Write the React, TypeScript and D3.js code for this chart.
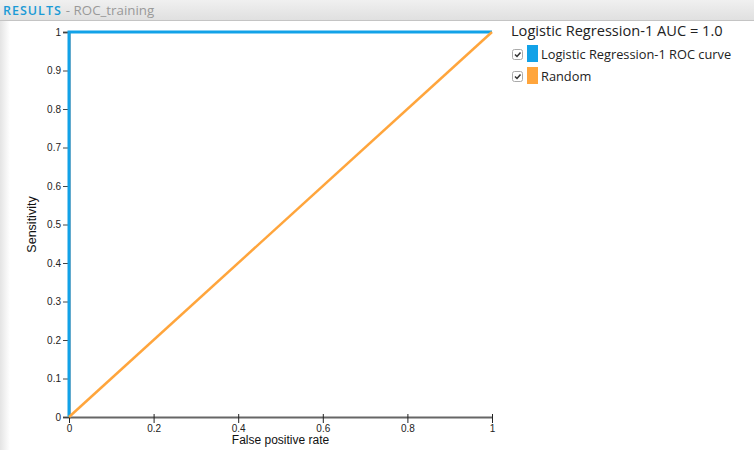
import React, { useEffect, useRef } from 'react'
import * as d3 from 'd3'

type Pt = { fpr: number, tpr: number }

// ROC curve of the model (perfect classifier) and the random baseline
const rocFpr = [0, 0, 1]
const rocTpr = [0, 1, 1]
const randomFpr = [0, 1]
const randomTpr = [0, 1]

const xTicks = [0, 0.2, 0.4, 0.6, 0.8, 1]
const yTicks = [0, 0.1, 0.2, 0.3, 0.4, 0.5, 0.6, 0.7, 0.8, 0.9, 1]

const legendTitle = 'Logistic Regression-1 AUC = 1.0'
const seriesNames = ['Logistic Regression-1 ROC curve', 'Random']
const seriesColors = ['#12a2e8', '#ffa53c']

export default function App() {
    const ref = useRef<SVGSVGElement>(null)

    useEffect(() => {
        const width = 754
        const height = 450
        const svg = d3.select(ref.current!)
        svg.selectAll('*').remove()
        svg.attr('width', width).attr('height', height)

        const defs = svg.append('defs')
        const hg = defs.append('linearGradient').attr('id', 'hdr').attr('x1', 0).attr('y1', 0).attr('x2', 0).attr('y2', 1)
        hg.append('stop').attr('offset', '0%').attr('stop-color', '#f0f0f0')
        hg.append('stop').attr('offset', '100%').attr('stop-color', '#e0e0e0')
        const lg = defs.append('linearGradient').attr('id', 'side').attr('x1', 0).attr('y1', 0).attr('x2', 1).attr('y2', 0)
        lg.append('stop').attr('offset', '0%').attr('stop-color', '#e4e4e4')
        lg.append('stop').attr('offset', '100%').attr('stop-color', '#ffffff')

        // header bar
        svg.append('rect').attr('x', 0).attr('y', 20).attr('width', 10).attr('height', height - 20).attr('fill', 'url(#side)')
        svg.append('rect').attr('x', 0).attr('y', 0).attr('width', width).attr('height', 20).attr('fill', 'url(#hdr)')
        svg.append('line').attr('x1', 0).attr('x2', width).attr('y1', 20.5).attr('y2', 20.5).attr('stroke', '#c4c4c4')
        const ht = svg.append('text').attr('x', 3).attr('y', 15)
            .attr('font-family', 'Open Sans').attr('font-size', 12.5)
        ht.append('tspan').attr('fill', '#1b9ad6').attr('font-weight', 600).attr('letter-spacing', 1).text('RESULTS')
        ht.append('tspan').attr('fill', '#999').attr('dx', 4).attr('font-size', 13.3).text('- ROC_training')

        const x = d3.scaleLinear().domain([0, 1]).range([69, 492])
        const y = d3.scaleLinear().domain([0, 1]).range([417, 32])

        // y axis
        const ya = svg.append('g').attr('transform', `translate(${x(0)},0)`)
            .call(d3.axisLeft(y).tickValues(yTicks).tickSize(6).tickFormat(d3.format('~g')))
        ya.select('.domain').attr('stroke', '#666').attr('stroke-width', 2)
        ya.selectAll('.tick line').attr('stroke', '#444')
        ya.selectAll('.tick text').attr('font-family', 'Liberation Sans').attr('font-size', 10).attr('fill', '#222').attr('x', -8)

        // x axis
        const xa = svg.append('g').attr('transform', `translate(0,${y(0)})`)
            .call(d3.axisBottom(x).tickValues(xTicks).tickSizeInner(6).tickSizeOuter(0).tickFormat(d3.format('~g')))
        xa.select('.domain').attr('stroke', '#666').attr('stroke-width', 2)
        xa.selectAll('.tick line').attr('stroke', '#222').attr('y1', -3)
        xa.selectAll('.tick text').attr('font-family', 'Liberation Sans').attr('font-size', 10).attr('fill', '#222').attr('y', 8)

        svg.append('text').attr('x', (x(0) + x(1)) / 2).attr('y', 444).attr('text-anchor', 'middle')
            .attr('font-family', 'Liberation Sans').attr('font-size', 12).attr('fill', '#111').text('False positive rate')
        svg.append('text').attr('transform', `translate(36,${(y(0) + y(1)) / 2}) rotate(-90)`).attr('text-anchor', 'middle')
            .attr('font-family', 'Liberation Sans').attr('font-size', 12.5).attr('fill', '#111').text('Sensitivity')

        const line = d3.line<Pt>().x(d => x(d.fpr)).y(d => y(d.tpr))
        const roc: Pt[] = rocFpr.map((f, i) => ({ fpr: f, tpr: rocTpr[i] }))
        const rnd: Pt[] = randomFpr.map((f, i) => ({ fpr: f, tpr: randomTpr[i] }))

        svg.append('path').datum(roc).attr('d', line).attr('fill', 'none')
            .attr('stroke', seriesColors[0]).attr('stroke-width', 3)
        svg.append('path').datum(rnd).attr('d', line).attr('fill', 'none')
            .attr('stroke', seriesColors[1]).attr('stroke-width', 2.5)

        // legend
        const leg = svg.append('g').attr('font-family', 'Open Sans')
        leg.append('text').attr('x', 511).attr('y', 36).attr('font-size', 14.6).attr('fill', '#222').text(legendTitle)
        seriesNames.forEach((name, i) => {
            const cy = 54 + i * 22
            leg.append('rect').attr('x', 512.5).attr('y', cy - 4.5).attr('width', 10).attr('height', 10).attr('rx', 2)
                .attr('fill', '#fff').attr('stroke', '#aaa')
            leg.append('path').attr('d', `M${515},${cy + 0.5} L${517},${cy + 2.5} L${520.5},${cy - 1.5}`)
                .attr('fill', 'none').attr('stroke', '#333').attr('stroke-width', 1.5)
            leg.append('rect').attr('x', 527).attr('y', cy - 9).attr('width', 11).attr('height', 17).attr('fill', seriesColors[i])
            leg.append('text').attr('x', 541).attr('y', cy + 5).attr('font-size', 12.8).attr('fill', '#222').text(name)
        })
    }, [])

    return (
        <div style={{ position: 'absolute', left: 0, top: 0 }}>
            <svg ref={ref} style={{ display: 'block' }}></svg>
        </div>
    )
}
